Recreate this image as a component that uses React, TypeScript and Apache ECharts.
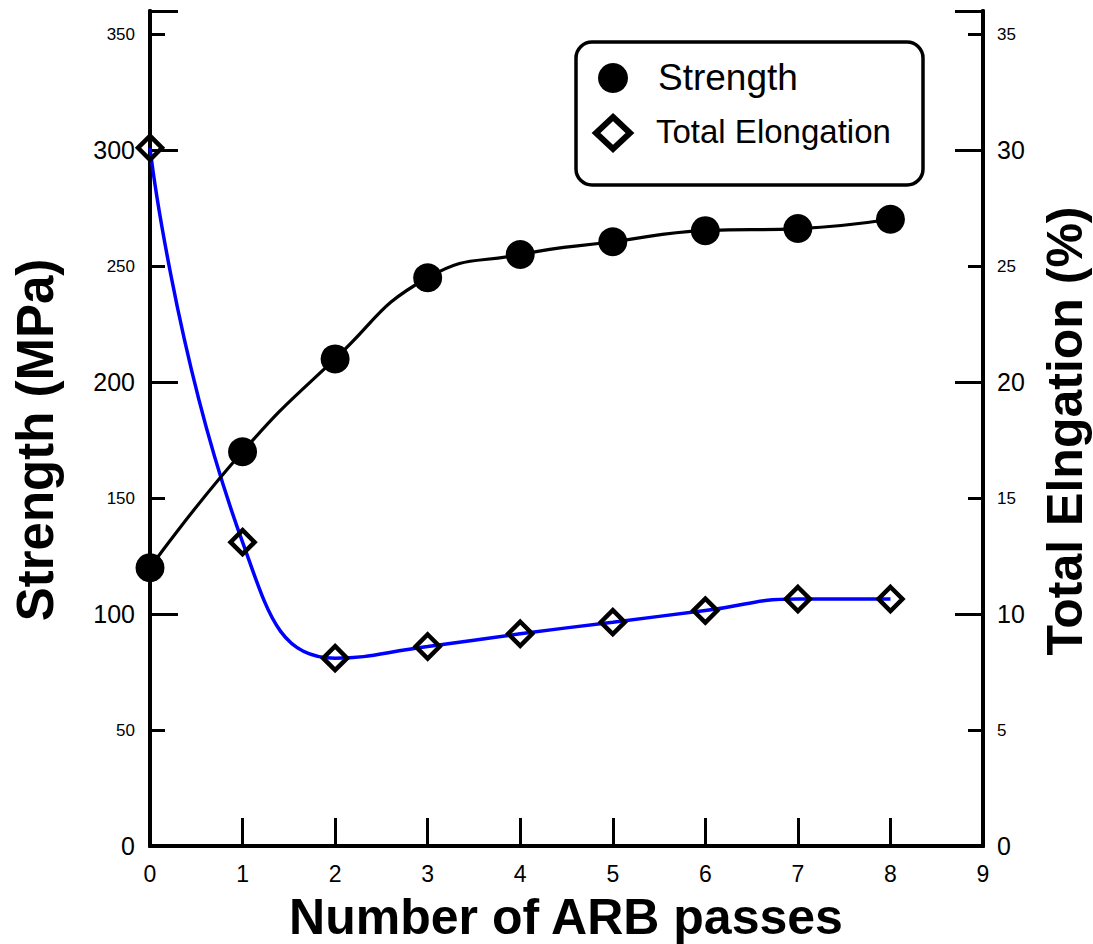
import React, { useEffect, useRef } from "react";
import * as echarts from "echarts";

const passes = [0, 1, 2, 3, 4, 5, 6, 7, 8];
const strength = [120, 170, 210, 245, 255, 260.5, 265.3, 266.2, 270.2];
const elongation = [30.1, 13.1, 8.1, 8.6, 9.15, 9.65, 10.15, 10.65, 10.65];

const xTicks = [0, 1, 2, 3, 4, 5, 6, 7, 8, 9];
const FONT = "'Liberation Sans', Arial, Helvetica, sans-serif";

export default function App() {
  const ref = useRef<HTMLDivElement>(null);
  useEffect(() => {
    if (!ref.current) return;
    const chart = echarts.init(ref.current, undefined, { renderer: "svg" });
    const axisLine = { show: true, lineStyle: { color: "#000", width: 4 } };
    const majorLeftFmt = (v: number) => (v % 100 === 0 ? String(v) : "");
    const minorLeftFmt = (v: number) => (v % 100 === 50 ? String(v) : "");
    const majorRightFmt = (v: number) => (v % 10 === 0 ? String(v) : "");
    const minorRightFmt = (v: number) => (v % 10 === 5 ? String(v) : "");
    chart.setOption({
      animation: false,
      backgroundColor: "#fff",
      grid: { left: 150, right: 110, top: 11, bottom: 98 },
      xAxis: [
        {
          type: "value",
          position: "bottom",
          min: 0,
          max: 9,
          interval: 1,
          axisLine,
          axisTick: { show: true, inside: true, length: 28, lineStyle: { color: "#000", width: 3 } },
          axisLabel: {
            color: "#000",
            fontSize: 23,
            fontFamily: FONT,
            margin: 16,
            formatter: (v: number) => (xTicks.includes(v) ? String(v) : ""),
          },
          splitLine: { show: false },
        },
        {
          type: "value",
          position: "top",
          min: 0,
          max: 9,
          axisLine,
          axisTick: { show: false },
          axisLabel: { show: false },
          splitLine: { show: false },
        },
      ],
      yAxis: [
        {
          type: "value",
          position: "left",
          min: 0,
          max: 360,
          interval: 100,
          axisLine,
          axisTick: { show: true, inside: true, length: 28, lineStyle: { color: "#000", width: 3 } },
          axisLabel: { color: "#000", fontSize: 25, fontFamily: FONT, margin: 15, formatter: majorLeftFmt },
          splitLine: { show: false },
        },
        {
          type: "value",
          position: "left",
          min: 0,
          max: 360,
          interval: 50,
          axisLine,
          axisTick: { show: true, inside: true, length: 15, lineStyle: { color: "#000", width: 3 } },
          axisLabel: { color: "#000", fontSize: 17, fontFamily: FONT, margin: 15, formatter: minorLeftFmt },
          splitLine: { show: false },
        },
        {
          type: "value",
          position: "right",
          min: 0,
          max: 36,
          interval: 10,
          axisLine,
          axisTick: { show: true, inside: true, length: 28, lineStyle: { color: "#000", width: 3 } },
          axisLabel: { color: "#000", fontSize: 25, fontFamily: FONT, margin: 14, formatter: majorRightFmt },
          splitLine: { show: false },
        },
        {
          type: "value",
          position: "right",
          min: 0,
          max: 36,
          interval: 5,
          axisLine,
          axisTick: { show: true, inside: true, length: 15, lineStyle: { color: "#000", width: 3 } },
          axisLabel: { color: "#000", fontSize: 17, fontFamily: FONT, margin: 14, formatter: minorRightFmt },
          splitLine: { show: false },
        },
      ],
      series: [
        {
          name: "Total Elongation",
          type: "line",
          yAxisIndex: 2,
          data: passes.map((p, i) => [p, elongation[i]]),
          smooth: 0.5,
          symbol: "diamond",
          symbolSize: 24,
          lineStyle: { color: "#0000ff", width: 3.5 },
          itemStyle: { color: "rgba(0,0,0,0)", borderColor: "#000", borderWidth: 4.5 },
          z: 3,
        },
        {
          name: "Strength",
          type: "line",
          yAxisIndex: 0,
          data: passes.map((p, i) => [p, strength[i]]),
          smooth: 0.5,
          symbol: "circle",
          symbolSize: 29,
          lineStyle: { color: "#000", width: 3.2 },
          itemStyle: { color: "#000" },
          z: 4,
        },
      ],
      graphic: [
        {
          type: "rect",
          shape: { x: 576, y: 42, width: 347, height: 143, r: 16 },
          style: { fill: "#fff", stroke: "#000", lineWidth: 3.5 },
          z: 10,
        },
        {
          type: "circle",
          shape: { cx: 613, cy: 78, r: 15 },
          style: { fill: "#000" },
          z: 11,
        },
        {
          type: "polygon",
          shape: { points: [[613, 117], [630, 133], [613, 149], [596, 133]] },
          style: { fill: "#fff", stroke: "#000", lineWidth: 6 },
          z: 11,
        },
        {
          type: "text",
          x: 658,
          y: 77,
          style: { text: "Strength", font: `37px ${FONT}`, fill: "#000", align: "left", verticalAlign: "middle" },
          z: 11,
        },
        {
          type: "text",
          x: 656,
          y: 131,
          style: { text: "Total Elongation", font: `33px ${FONT}`, fill: "#000", align: "left", verticalAlign: "middle" },
          z: 11,
        },
        {
          type: "text",
          x: 35,
          y: 440,
          rotation: Math.PI / 2,
          style: { text: "Strength (MPa)", font: `bold 51px ${FONT}`, fill: "#000", align: "center", verticalAlign: "middle" },
        },
        {
          type: "text",
          x: 1065,
          y: 431,
          rotation: Math.PI / 2,
          style: { text: "Total Elngation (%)", font: `bold 50px ${FONT}`, fill: "#000", align: "center", verticalAlign: "middle" },
        },
        {
          type: "text",
          x: 566,
          y: 917,
          style: { text: "Number of ARB passes", font: `bold 50px ${FONT}`, fill: "#000", align: "center", verticalAlign: "middle" },
        },
      ],
    });
    return () => chart.dispose();
  }, []);
  return <div ref={ref} style={{ position: "absolute", left: 0, top: 0, width: 1093, height: 944 }} />;
}
